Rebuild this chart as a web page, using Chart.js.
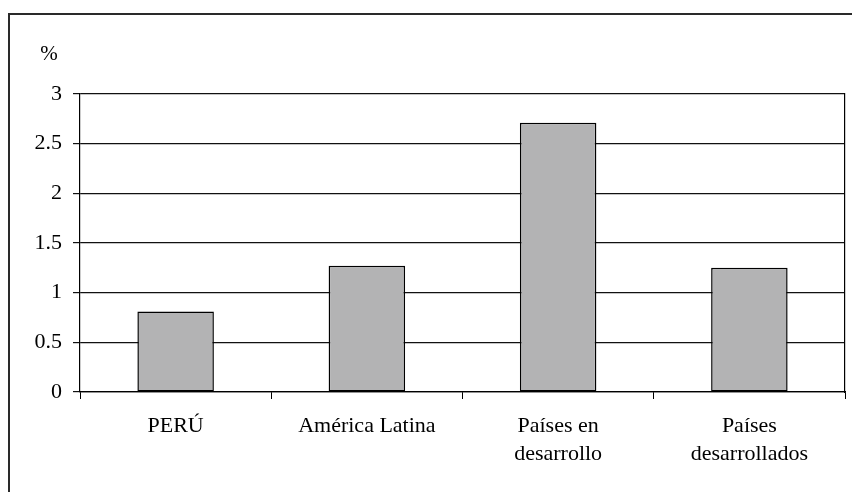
<!DOCTYPE html>
<html>
<head>
<meta charset="utf-8">
<script src="https://cdn.jsdelivr.net/npm/chart.js@4/dist/chart.umd.min.js"></script>
<style>
  html, body { margin: 0; padding: 0; background: #fff; }
  #wrap { position: relative; width: 852px; height: 492px; overflow: hidden; }
  #frame { position: absolute; left: 8px; top: 13px; width: 900px; height: 600px;
           border-left: 2px solid #2a2a2a; border-top: 2px solid #2a2a2a; box-sizing: border-box; }
  canvas { position: absolute; left: 0; top: 0; }
</style>
</head>
<body>
<div id="wrap">
  <div id="frame"></div>
  <canvas id="c" width="852" height="492"></canvas>
</div>
<script>
// Regions compared
const categories = [
  ['PERÚ'],
  ['América Latina'],
  ['Países en', 'desarrollo'],
  ['Países', 'desarrollados']
];
// Percentage values per region
const values = [0.81, 1.27, 2.71, 1.25];
// Y axis range and step
const yMin = 0;
const yMax = 3;
const yStep = 0.5;
const unitLabel = '%';

const serif = '"Liberation Serif", "Times New Roman", serif';

// Draws the unit label above the value axis
const unitPlugin = {
  id: 'unitLabel',
  afterDraw(chart) {
    const ctx = chart.ctx;
    const y = chart.scales.y;
    ctx.save();
    ctx.font = '21px ' + serif;
    ctx.fillStyle = '#000';
    ctx.textAlign = 'center';
    ctx.textBaseline = 'middle';
    ctx.fillText(unitLabel, y.left + 49, chart.chartArea.top - 40);
    ctx.restore();
  }
};

new Chart(document.getElementById('c'), {
  type: 'bar',
  data: {
    labels: categories,
    datasets: [{
      data: values,
      backgroundColor: '#b3b3b4',
      borderColor: '#000',
      borderWidth: 1.5,
      borderSkipped: false,
      barPercentage: 0.4,
      categoryPercentage: 1.0
    }]
  },
  options: {
    responsive: false,
    animation: false,
    layout: { padding: { left: 0, right: 6, top: 94, bottom: 0 } },
    plugins: { legend: { display: false }, tooltip: { enabled: false } },
    scales: {
      x: {
        offset: true,
        grid: { offset: true, drawOnChartArea: false, drawTicks: true, tickLength: 7, color: '#000', lineWidth: 1 },
        border: { display: true, color: '#000', width: 1.2 },
        ticks: { color: '#000', font: { family: serif, size: 22, lineHeight: 1.28 }, padding: 13, maxRotation: 0, autoSkip: false },
        afterFit(s) { s.height = 100; }
      },
      y: {
        min: yMin,
        max: yMax,
        ticks: {
          stepSize: yStep, color: '#000', font: { family: serif, size: 22 }, padding: 11,
          callback: v => String(Number(v.toFixed(2)))
        },
        grid: { color: '#111', lineWidth: 1.2, tickLength: 7 },
        border: { display: true, color: '#000', width: 1.2 },
        afterFit(s) { s.width = 80; }
      },
      y2: {
        position: 'right',
        min: yMin,
        max: yMax,
        ticks: { display: false },
        grid: { drawOnChartArea: false, drawTicks: false },
        border: { display: true, color: '#000', width: 1.2 },
        afterFit(s) { s.width = 1; }
      }
    }
  },
  plugins: [unitPlugin]
});
</script>
</body>
</html>
